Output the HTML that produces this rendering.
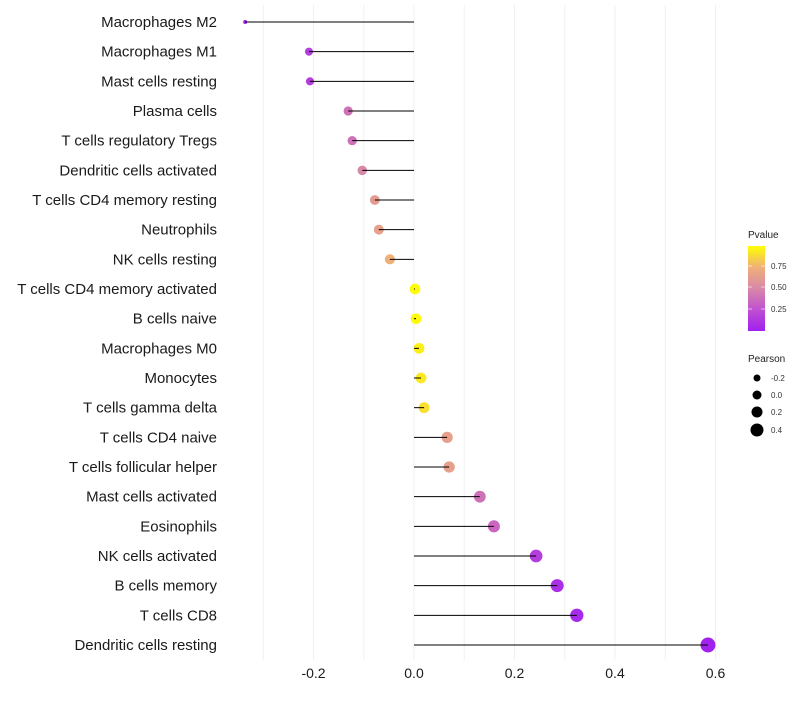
<!DOCTYPE html>
<html><head><meta charset="utf-8"><style>
body{margin:0;background:#fff;font-family:"Liberation Sans",sans-serif}
svg text{font-family:"Liberation Sans",sans-serif}
</style></head><body>
<svg id="chart" width="800" height="700" xmlns="http://www.w3.org/2000/svg">
<defs><linearGradient id="pg" x1="0" y1="1" x2="0" y2="0">
<stop offset="0" stop-color="#a020f0"/><stop offset="0.25" stop-color="#c050d0"/><stop offset="0.5" stop-color="#d888a8"/><stop offset="0.75" stop-color="#f0b078"/><stop offset="1" stop-color="#ffff00"/></linearGradient></defs>
<g id="grid"></g>
<g id="marks"></g>
<g id="ylabels"></g>
<g id="xlabels"></g>
<g>
<text x="748" y="238" font-size="10" fill="#222">Pvalue</text>
<rect x="748" y="246" width="17" height="85" fill="url(#pg)"/>
<line x1="748" x2="752" y1="266" y2="266" stroke="#fff" stroke-opacity="0.6"/><line x1="761" x2="765" y1="266" y2="266" stroke="#fff" stroke-opacity="0.6"/>
<line x1="748" x2="752" y1="287" y2="287" stroke="#fff" stroke-opacity="0.6"/><line x1="761" x2="765" y1="287" y2="287" stroke="#fff" stroke-opacity="0.6"/>
<line x1="748" x2="752" y1="309" y2="309" stroke="#fff" stroke-opacity="0.6"/><line x1="761" x2="765" y1="309" y2="309" stroke="#fff" stroke-opacity="0.6"/>
<text x="771" y="269" font-size="8" fill="#333">0.75</text>
<text x="771" y="290" font-size="8" fill="#333">0.50</text>
<text x="771" y="312" font-size="8" fill="#333">0.25</text>
</g>
<g>
<text x="748" y="362" font-size="10" fill="#222">Pearson</text>
<circle cx="757" cy="378" r="3.5" fill="#000"/><text x="771" y="381" font-size="8" fill="#333">-0.2</text>
<circle cx="757" cy="395" r="4.5" fill="#000"/><text x="771" y="398" font-size="8" fill="#333">0.0</text>
<circle cx="757" cy="412" r="5.5" fill="#000"/><text x="771" y="415" font-size="8" fill="#333">0.2</text>
<circle cx="757" cy="430" r="6.5" fill="#000"/><text x="771" y="433" font-size="8" fill="#333">0.4</text>
</g>
</svg>
<script>
const categories=["Macrophages M2","Macrophages M1","Mast cells resting","Plasma cells","T cells regulatory  Tregs","Dendritic cells activated","T cells CD4 memory resting","Neutrophils","NK cells resting","T cells CD4 memory activated","B cells naive","Macrophages M0","Monocytes","T cells gamma delta","T cells CD4 naive","T cells follicular helper","Mast cells activated","Eosinophils","NK cells activated","B cells memory","T cells CD8","Dendritic cells resting"];
const pearson=[-0.336,-0.209,-0.207,-0.131,-0.123,-0.103,-0.078,-0.070,-0.048,0.002,0.004,0.010,0.014,0.020,0.066,0.070,0.131,0.159,0.243,0.285,0.324,0.585];
const pvalue=[0.01,0.15,0.15,0.4,0.4,0.5,0.62,0.65,0.75,0.99,0.98,0.95,0.93,0.9,0.65,0.65,0.4,0.35,0.15,0.08,0.05,0.01];
const xTicks=[-0.2,0,0.2,0.4,0.6];
const xTickLabels=["-0.2","0.0","0.2","0.4","0.6"];
const NS="http://www.w3.org/2000/svg";
const X=v=>414+v*502.5;
const Y=i=>22+i*(623/(categories.length-1));
const stops=[[0,[160,32,240]],[0.25,[192,80,208]],[0.5,[216,136,168]],[0.75,[240,176,120]],[1,[255,255,0]]];
function col(p){for(let k=1;k<stops.length;k++){if(p<=stops[k][0]){const a=stops[k-1],b=stops[k],t=(p-a[0])/(b[0]-a[0]);return "rgb("+a[1].map((c,j)=>Math.round(c+(b[1][j]-c)*t)).join(",")+")";}}return "rgb(255,255,0)";}
const pMin=Math.min(...pearson),pMax=Math.max(...pearson);
function rad(v){const t=(v-pMin)/(pMax-pMin);return 2+5.5*Math.sqrt(t);}
function mk(t,a,p){const e=document.createElementNS(NS,t);for(const k in a)e.setAttribute(k,a[k]);p.appendChild(e);return e;}
const grid=document.getElementById('grid'),marks=document.getElementById('marks'),yl=document.getElementById('ylabels'),xl=document.getElementById('xlabels');
for(let g=-0.3;g<=0.61;g+=0.1){const l=mk('line',{x1:X(g),x2:X(g),y1:5,y2:660,stroke:'#f0f0f0','stroke-width':1},grid);

}
categories.forEach((c,i)=>{
const t=mk('text',{x:217,y:Y(i)+5,'text-anchor':'end','font-size':15,fill:'#1a1a1a'},yl);t.textContent=c;


const pt=mk('circle',{cx:X(pearson[i]),cy:Y(i),r:rad(pearson[i]),fill:col(pvalue[i])},marks);


const ln=mk('line',{x1:X(0),x2:X(pearson[i]),y1:Y(i),y2:Y(i),stroke:'#000','stroke-width':1},marks);


});
xTicks.forEach((v,i)=>{const t=mk('text',{x:X(v),y:678,'text-anchor':'middle','font-size':14,fill:'#1a1a1a'},xl);t.textContent=xTickLabels[i];

});
</script>
</body></html>
